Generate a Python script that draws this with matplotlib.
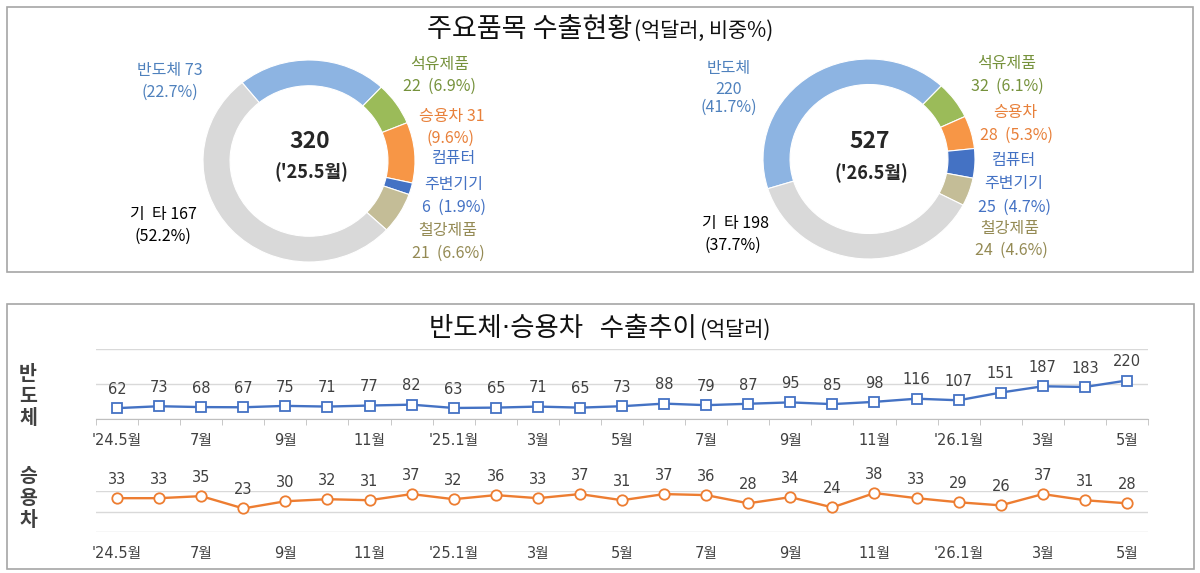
import numpy as np
import matplotlib
matplotlib.use('Agg')
import matplotlib.pyplot as plt
from matplotlib.patches import Rectangle

plt.rcParams['font.family'] = ['Noto Sans CJK KR', 'DejaVu Sans']

# ---- donut data (억달러, 비중%)
items = ['반도체', '석유제품', '승용차', '컴퓨터 주변기기', '철강제품', '기타']
val_2505 = [73, 22, 31, 6, 21, 167]
pct_2505 = [22.7, 6.9, 9.6, 1.9, 6.6, 52.2]
val_2605 = [220, 32, 28, 25, 24, 198]
pct_2605 = [41.7, 6.1, 5.3, 4.7, 4.6, 37.7]
total_2505 = 320
total_2605 = 527

# ---- monthly trend ('24.5 ~ '26.5)
months = ["'24.5월", '6월', '7월', '8월', '9월', '10월', '11월', '12월',
          "'25.1월", '2월', '3월', '4월', '5월', '6월', '7월', '8월', '9월',
          '10월', '11월', '12월', "'26.1월", '2월', '3월', '4월', '5월']
semi = [62, 73, 68, 67, 75, 71, 77, 82, 63, 65, 71, 65, 73, 88, 79, 87, 95,
        85, 98, 116, 107, 151, 187, 183, 220]
cars = [33, 33, 35, 23, 30, 32, 31, 37, 32, 36, 33, 37, 31, 37, 36, 28, 34,
        24, 38, 33, 29, 26, 37, 31, 28]

wedge_colors = ['#8DB4E2', '#9BBB59', '#F79646', '#4472C4', '#C4BD97', '#D9D9D9']
text_colors = ['#4F81BD', '#76923C', '#E8803A', '#4472C4', '#948A54', '#000000']
dark = '#404040'
num_font = ['DejaVu Sans', 'Noto Sans CJK KR']

W, H = 1200, 573
fig = plt.figure(figsize=(12, 5.73), dpi=100)


def px(x, y):
    return x / W, 1 - y / H


# frames
for x0, y0, x1, y1 in [(7, 7, 1193, 272), (7, 304, 1194, 569)]:
    fig.patches.append(Rectangle(px(x0, y1), (x1 - x0) / W, (y1 - y0) / H,
                                 transform=fig.transFigure, fill=False,
                                 edgecolor='#A6A6A6', lw=1.2))


def title(x, y, main, sub, size, subsize, family=None):
    t = fig.text(*px(x, y), main, fontsize=size, va='baseline', ha='left',
                 color='#111111', family=family)
    s = fig.text(0, 0, sub, fontsize=subsize, va='baseline', ha='left', color='#111111')
    return t, s


titles = [title(420, 37, '주요품목 수출현황', '(억달러, 비중%)', 19.5, 15),
          title(432, 336, '반도체·승용차  수출추이', '(억달러)', 19, 15, num_font)]


# ---- donuts
def donut(rect, vals, cx, cy, total, month):
    ax = fig.add_axes(rect)
    start = 47 + 360 * vals[0] / sum(vals)
    ax.pie(vals, colors=wedge_colors, startangle=start, counterclock=False,
           wedgeprops=dict(width=0.255, edgecolor='white', linewidth=0.8))
    ax.set_aspect('auto')
    ax.set_xlim(-1, 1)
    ax.set_ylim(-1, 1)
    fig.text(*px(cx, cy - 19), str(total), ha='center', va='center',
             fontsize=16.5, fontweight='bold', color='#262626')
    fig.text(*px(cx + 1, cy + 12), "('" + month + "월)", ha='center', va='center',
             fontsize=13, fontweight='bold', color='#262626')


donut([203 / W, 1 - 262 / H, 212 / W, 202 / H], val_2505, 310, 160, total_2505, '25.5')
donut([763 / W, 1 - 259 / H, 212 / W, 200 / H], val_2605, 870, 161, total_2605, '26.5')

# label layout: (item, x, y, template)
lab_2505 = [(0, 170, 71, '반도체 {v}'), (0, 170, 92, '({p}%)'),
            (1, 440, 64, '석유제품'), (1, 440, 86, '{v}  ({p}%)'),
            (2, 452, 117, '승용차 {v}'), (2, 451, 138, '({p}%)'),
            (3, 454, 159, '컴퓨터'), (3, 454, 184, '주변기기'), (3, 454, 207, '{v}  ({p}%)'),
            (4, 448, 231, '철강제품'), (4, 448, 253, '{v}  ({p}%)'),
            (5, 163, 215, '기  타 {v}'), (5, 163, 236, '({p}%)')]
lab_2605 = [(0, 729, 68, '반도체'), (0, 729, 89, '{v}'), (0, 729, 107, '({p}%)'),
            (1, 1007, 63, '석유제품'), (1, 1007, 86, '{v}  ({p}%)'),
            (2, 1015, 113, '승용차'), (2, 1016, 135, '{v}  ({p}%)'),
            (3, 1014, 160, '컴퓨터'), (3, 1014, 183, '주변기기'), (3, 1014, 207, '{v}  ({p}%)'),
            (4, 1010, 229, '철강제품'), (4, 1011, 250, '{v}  ({p}%)'),
            (5, 735, 223, '기  타 {v}'), (5, 733, 245, '({p}%)')]

for layout, vals, pcts in [(lab_2505, val_2505, pct_2505), (lab_2605, val_2605, pct_2605)]:
    for i, x, y, tpl in layout:
        fig.text(*px(x, y), tpl.format(v=vals[i], p=pcts[i]), ha='center', va='center',
                 fontsize=11.5, color=text_colors[i])

# ---- trend lines
x = np.arange(len(months))
left, right = 96, 1148


def trend(ytop, ybot, vals, ymax, color, marker, ticks):
    ax = fig.add_axes([left / W, 1 - ybot / H, (right - left) / W, (ybot - ytop) / H])
    ax.plot(x, vals, color=color, lw=1.7, marker=marker, ms=7.5, mfc='white',
            mec=color, mew=1.3, zorder=3, clip_on=False)
    for xi, v in zip(x, vals):
        ax.annotate(str(v), (xi, v), xytext=(0, 13.5), textcoords='offset points',
                    ha='center', va='center', fontsize=10.5, color=dark, family=num_font)
    ax.set_xlim(-0.5, len(months) - 0.5)
    ax.set_ylim(0, ymax)
    ax.set_yticks([0, ymax / 2, ymax])
    ax.grid(axis='y', color='#D9D9D9', lw=1)
    ax.tick_params(axis='y', length=0, labelleft=False)
    for s in ax.spines.values():
        s.set_visible(False)
    ax.set_xticks(x[::2])
    ax.set_xticklabels(months[::2], family=num_font)
    ax.tick_params(axis='x', which='major', length=0, pad=10, labelsize=10.5, colors=dark)
    if ticks:
        ax.spines['bottom'].set_visible(True)
        ax.spines['bottom'].set_color('#BFBFBF')
        ax.set_xticks(np.arange(-0.5, len(months), 1), minor=True)
        ax.tick_params(axis='x', which='minor', length=4, color='#BFBFBF')
    return ax


trend(349, 419, semi, 400, '#4472C4', 's', True)
trend(491, 532, cars, 40, '#ED7D31', 'o', False)

fig.text(*px(28, 396), '반\n도\n체', ha='center', va='center', fontsize=14,
         fontweight='bold', linespacing=1.2, color=dark)
fig.text(*px(28, 498), '승\n용\n차', ha='center', va='center', fontsize=14,
         fontweight='bold', linespacing=1.2, color=dark)

# center the two-part titles
fig.canvas.draw()
r = fig.canvas.get_renderer()
for t, s in titles:
    e1 = t.get_window_extent(r)
    e2 = s.get_window_extent(r)
    total = e1.width + 2 + e2.width
    x0 = (W / 2 - total / 2) / W
    t.set_x(x0)
    s.set_position((x0 + (e1.width + 2) / W, t.get_position()[1]))

fig.savefig('out.png', dpi=100)
